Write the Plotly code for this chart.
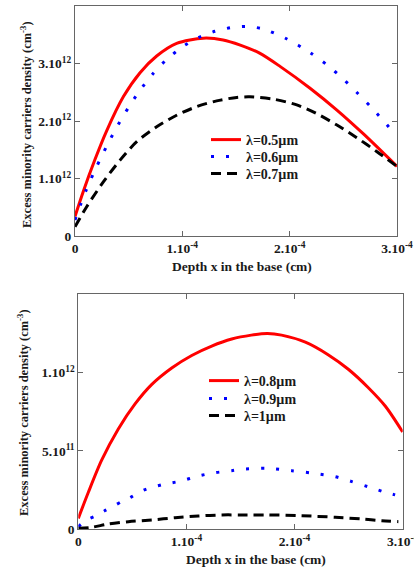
import plotly.graph_objects as go

# ---------------- data (x in 1e-4 cm, y in 1e12 cm^-3) ----------------
x_05 = [0, 0.078, 0.186, 0.295, 0.45, 0.606, 0.761, 0.947, 1.195, 1.38, 1.54, 1.72, 1.91, 2.19, 2.44, 2.69, 3.0]
y_05 = [0.34, 0.78, 1.33, 1.83, 2.42, 2.84, 3.13, 3.35, 3.44, 3.41, 3.32, 3.18, 2.95, 2.57, 2.19, 1.77, 1.21]

x_06 = [0, 0.1, 0.2, 0.3, 0.4, 0.5, 0.6, 0.73, 0.854, 1.009, 1.149, 1.304, 1.475, 1.6,
        1.754, 1.97, 2.19, 2.345, 2.494, 2.64, 2.764, 2.904, 2.966]
y_06 = [0.28, 0.78, 1.20, 1.58, 1.93, 2.24, 2.52, 2.83, 3.07, 3.30, 3.45, 3.56, 3.63, 3.645,
        3.60, 3.43, 3.19, 2.98, 2.74, 2.47, 2.23, 1.94, 1.80]

x_07 = [0, 0.109, 0.264, 0.42, 0.575, 0.761, 0.947, 1.134, 1.32, 1.507, 1.63, 1.848, 2.066, 2.25, 2.44, 2.625, 2.81, 3.0]
y_07 = [0.16, 0.51, 0.94, 1.32, 1.64, 1.90, 2.10, 2.25, 2.35, 2.41, 2.42, 2.38, 2.28, 2.13, 1.93, 1.71, 1.47, 1.21]

x_08 = [0, 0.093, 0.216, 0.37, 0.525, 0.68, 0.864, 1.049, 1.234, 1.419, 1.6, 1.75, 1.88, 2.10, 2.31, 2.50, 2.68, 2.84, 3.0]
y_08 = [0.068, 0.235, 0.44, 0.64, 0.80, 0.925, 1.03, 1.11, 1.17, 1.215, 1.24, 1.25, 1.24, 1.195, 1.115, 1.02, 0.905, 0.785, 0.62]

x_09 = [0, 0.078, 0.16, 0.24, 0.318, 0.40, 0.478, 0.555, 0.633, 0.793, 0.95, 1.11, 1.265, 1.419,
        1.51, 1.743, 1.974, 2.22, 2.375, 2.53, 2.68, 2.853, 2.93]
y_09 = [0.015, 0.058, 0.083, 0.115, 0.143, 0.175, 0.20, 0.232, 0.256, 0.286, 0.307, 0.339, 0.36, 0.373,
        0.382, 0.388, 0.373, 0.352, 0.335, 0.303, 0.27, 0.232, 0.218]

x_10 = [0, 0.124, 0.278, 0.463, 0.68, 0.895, 1.11, 1.327, 1.51, 1.758, 2.067, 2.375, 2.62, 2.807, 2.96]
y_10 = [0.004, 0.011, 0.032, 0.047, 0.058, 0.072, 0.083, 0.090, 0.090, 0.090, 0.085, 0.075, 0.064, 0.053, 0.047]

names_top = ["λ=0.5µm", "λ=0.6µm", "λ=0.7µm"]
names_bottom = ["λ=0.8µm", "λ=0.9µm", "λ=1µm"]

x_tickvals = [0, 1e-4, 2e-4, 3e-4]
x_ticktext = ["0", "1.10<sup>-4</sup>", "2.10<sup>-4</sup>", "3.10<sup>-4</sup>"]
y1_tickvals = [0, 1e12, 2e12, 3e12]
y1_ticktext = ["0", "1.10<sup>12</sup>", "2.10<sup>12</sup>", "3.10<sup>12</sup>"]
y2_tickvals = [0, 5e11, 1e12]
y2_ticktext = ["0", "5.10<sup>11</sup>", "1.10<sup>12</sup>"]

W, H = 414, 569
FONT = "Liberation Serif"
INK = "#1a1a1a"

def sx(v):
    return [a * 1e-4 for a in v]

def sy(v):
    return [a * 1e12 for a in v]

fig = go.Figure()

def add(x, y, name, color, dash, xa, ya, leg):
    fig.add_trace(go.Scatter(
        x=sx(x), y=sy(y), name=name, mode="lines",
        line=dict(color=color, width=3, dash=dash, shape="spline", smoothing=0.8),
        xaxis=xa, yaxis=ya, legend=leg))

add(x_05, y_05, names_top[0], "#ff0000", "solid", "x", "y", "legend")
add(x_06, y_06, names_top[1], "#0000ff", "3px,12px", "x", "y", "legend2")
add(x_07, y_07, names_top[2], "#000000", "10px,6px", "x", "y", "legend3")
add(x_08, y_08, names_bottom[0], "#ff0000", "solid", "x2", "y2", "legend4")
add(x_09, y_09, names_bottom[1], "#0000ff", "3px,12px", "x2", "y2", "legend5")
add(x_10, y_10, names_bottom[2], "#000000", "10px,6px", "x2", "y2", "legend6")

tickfont = dict(family=FONT, size=13.5, color=INK, weight="bold")
ax_common = dict(showline=True, linecolor="#666666", linewidth=1, mirror="ticks",
                 ticks="inside", ticklen=5, tickcolor="#666666", showgrid=False,
                 zeroline=False, tickfont=tickfont, automargin=False,
                 ticklabeloverflow="allow")

def leg(xpx, ypx):
    return dict(x=xpx / W, y=1 - ypx / H, xanchor="left", yanchor="middle",
                bgcolor="rgba(0,0,0,0)", borderwidth=0,
                font=dict(family=FONT, size=14, color=INK, weight="bold"))

fig.update_layout(
    width=W, height=H, margin=dict(l=0, r=0, t=0, b=0, autoexpand=False),
    paper_bgcolor="white", plot_bgcolor="white",
    xaxis=dict(domain=[75 / W, 397 / W], range=[0, 3e-4], anchor="y",
               tickvals=x_tickvals, ticktext=x_ticktext, **ax_common),
    yaxis=dict(domain=[1 - 236 / H, 1 - 6 / H], range=[0, 4e12], anchor="x",
               tickvals=y1_tickvals, ticktext=y1_ticktext, **ax_common),
    xaxis2=dict(domain=[78.3 / W, 402.7 / W], range=[0, 3e-4], anchor="y2",
                tickvals=x_tickvals, ticktext=x_ticktext, **ax_common),
    yaxis2=dict(domain=[1 - 529 / H, 1 - 294 / H], range=[0, 1.503e12], anchor="x2",
                tickvals=y2_tickvals, ticktext=y2_ticktext, **ax_common),
    legend=leg(206, 140),
    legend2=leg(206, 157),
    legend3=leg(206, 174),
    legend4=leg(204, 381),
    legend5=leg(204, 399),
    legend6=leg(204, 416),
    showlegend=True,
)

title_font = dict(family=FONT, size=12.5, color=INK, weight="bold")
ytitle = "Excess minority carriers density (cm<sup>-3</sup>)"
fig.add_annotation(text=ytitle, textangle=-90, x=26 / W, y=1 - 125 / H,
                   xanchor="center", yanchor="middle",
                   xref="paper", yref="paper", showarrow=False, font=title_font)
fig.add_annotation(text=ytitle, textangle=-90, x=23 / W, y=1 - 413 / H,
                   xanchor="center", yanchor="middle",
                   xref="paper", yref="paper", showarrow=False, font=title_font)
xtitle = "Depth x in the base (cm)"
xfont = dict(family=FONT, size=13.5, color=INK, weight="bold")
fig.add_annotation(text=xtitle, x=242 / W, y=1 - 266 / H, xref="paper", yref="paper",
                   xanchor="center", yanchor="middle",
                   showarrow=False, font=xfont)
fig.add_annotation(text=xtitle, x=256 / W, y=1 - 559 / H, xref="paper", yref="paper",
                   xanchor="center", yanchor="middle",
                   showarrow=False, font=xfont)

fig.write_html("out.html", config={"displayModeBar": False},
               post_script="document.body.style.margin='0px';")
